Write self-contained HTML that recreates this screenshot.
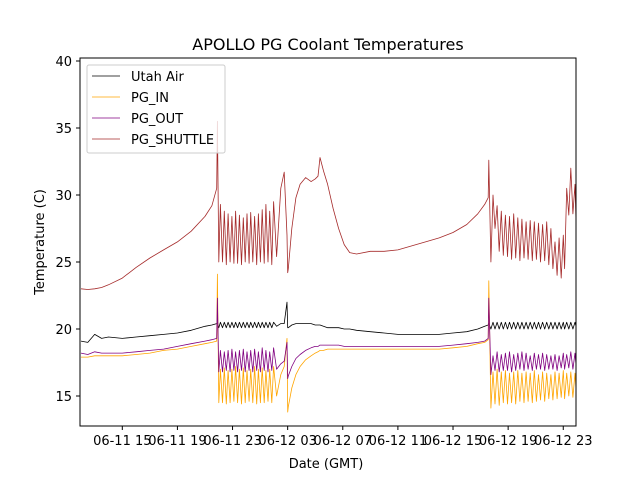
<!DOCTYPE html>
<html><head><meta charset="utf-8"><style>
body{margin:0;background:#fff}
svg{font-family:"DejaVu Sans","Liberation Sans",sans-serif}
</style></head><body>
<svg id="c" width="640" height="480" viewBox="0 0 640 480">
<rect width="640" height="480" fill="#fff"/>
<text x="328" y="50" font-size="16" text-anchor="middle">APOLLO PG Coolant Temperatures</text>
<g id="plot"></g>
<rect x="80" y="58" width="496" height="368" fill="none" stroke="#000" stroke-width="1"/>
<g id="axes"></g>
<text x="326" y="468" font-size="13" text-anchor="middle">Date (GMT)</text>
<text transform="translate(44,242) rotate(-90)" font-size="13" text-anchor="middle">Temperature (C)</text>
<g>
<rect x="87" y="65" width="138" height="88" fill="#fff" fill-opacity="0.8" stroke="#ccc" rx="2"/>
<line x1="92" y1="76" x2="120" y2="76" stroke="#000" stroke-width="0.8"/>
<text x="131" y="81" font-size="13">Utah Air</text>
<line x1="92" y1="97" x2="120" y2="97" stroke="orange" stroke-width="0.8"/>
<text x="131" y="102" font-size="13">PG_IN</text>
<line x1="92" y1="118" x2="120" y2="118" stroke="purple" stroke-width="0.8"/>
<text x="131" y="123" font-size="13">PG_OUT</text>
<line x1="92" y1="139" x2="120" y2="139" stroke="brown" stroke-width="0.8"/>
<text x="131" y="144" font-size="13">PG_SHUTTLE</text>
</g>
</svg>
<script>
// hours since 06-11 00:00 GMT
const T = [12,12.5,13,13.5,14,15,16,17,18,19,20,21,21.5,21.85,21.9,
22.0,22.12,22.27,22.4,22.55,22.68,22.82,22.95,23.1,23.22,23.37,23.5,23.65,23.78,23.92,24.05,24.2,24.32,24.47,24.6,24.75,24.88,25.02,25.15,25.3,25.42,25.57,25.7,25.85,25.98,26.2,26.5,26.75,26.95,27.0,
27.05,27.3,27.6,27.9,28.3,28.7,29.0,29.2,29.35,29.6,29.9,30.3,30.7,31.1,31.5,32,33,34,35,36,37,38,39,40,40.8,41.3,41.55,41.6,
41.75,41.9,42.05,42.2,42.35,42.5,42.65,42.8,42.95,43.1,43.25,43.4,43.55,43.7,43.85,44.0,44.15,44.3,44.45,44.6,44.75,44.9,45.05,45.2,45.35,45.5,45.65,45.8,45.95,46.1,46.25,46.4,46.55,46.7,46.85,47.0,47.1,47.25,47.4,47.55,47.7,47.85,47.95];
const shuttle = [23.0,22.95,23.0,23.1,23.3,23.8,24.6,25.3,25.9,26.5,27.3,28.4,29.2,30.5,35.5,
25,29.3,25,28.8,24.8,28.6,25,28.4,24.9,28.8,24.9,28.5,24.8,28.3,25,28.6,24.9,28.7,25,28.4,24.8,28.6,25,28.9,24.9,29.3,25,28.8,24.8,29.5,25.4,30.5,31.7,27,24.2,
24.5,27.5,29.8,30.8,31.3,31.0,31.2,31.4,32.8,31.8,30.8,29.0,27.5,26.3,25.7,25.6,25.8,25.8,25.9,26.2,26.5,26.8,27.2,27.8,28.6,29.3,29.8,32.6,
25.0,30.0,27.5,29.2,25.8,28.8,25.5,28.5,25.4,28.4,25.2,28.6,25.3,28.3,25.1,28.2,25.3,28.0,25.2,28.1,25.1,28.0,25.2,27.9,25.0,27.8,25.1,28.0,24.8,27.5,24.5,26.5,24.0,26.8,23.8,27.0,24.5,30.5,28.5,32.0,28.6,30.8,27.0];
const air = [19.1,19.0,19.6,19.3,19.4,19.3,19.4,19.5,19.6,19.7,19.9,20.2,20.3,20.4,20.5,
20.1,20.5,20.1,20.5,20.1,20.5,20.1,20.5,20.1,20.5,20.1,20.5,20.1,20.5,20.1,20.5,20.1,20.5,20.1,20.5,20.1,20.5,20.1,20.5,20.1,20.5,20.1,20.5,20.1,20.5,20.2,20.4,20.4,22.0,20.1,
20.1,20.3,20.4,20.4,20.4,20.4,20.3,20.3,20.3,20.2,20.1,20.1,20.1,20.0,20.0,19.9,19.8,19.7,19.6,19.6,19.6,19.6,19.7,19.8,20.0,20.2,20.3,20.4,
20.0,20.5,20.0,20.5,20.0,20.5,20.0,20.5,20.0,20.5,20.0,20.5,20.0,20.5,20.0,20.5,20.0,20.5,20.0,20.5,20.0,20.5,20.0,20.5,20.0,20.5,20.0,20.5,20.0,20.5,20.0,20.5,20.0,20.5,20.0,20.5,20.0,20.5,20.0,20.5,20.0,20.5,20.1];
const pgOut = [18.2,18.1,18.3,18.2,18.2,18.2,18.3,18.4,18.5,18.7,18.9,19.1,19.2,19.3,22.3,
16.8,18.4,16.8,18.3,16.9,18.4,16.8,18.5,16.9,18.3,16.8,18.4,16.9,18.5,16.8,18.3,16.9,18.4,16.8,18.5,16.9,18.3,16.8,18.6,16.9,18.4,16.8,18.3,16.9,18.6,17.0,17.4,17.6,19.0,16.3,
16.5,17.2,17.8,18.1,18.4,18.6,18.7,18.7,18.8,18.8,18.8,18.8,18.8,18.7,18.7,18.7,18.7,18.7,18.7,18.7,18.7,18.7,18.8,18.9,19.0,19.1,19.3,22.3,
16.6,18.0,16.9,18.3,16.8,18.1,16.9,18.2,16.9,18.3,16.8,18.1,16.9,18.2,17.0,18.3,16.9,18.2,17.0,18.0,16.9,18.2,17.0,18.1,17.0,18.2,16.9,18.1,17.0,18.0,17.0,18.1,16.9,18.0,17.1,18.2,17.0,18.1,17.1,18.3,17.0,18.2,17.0];
const pgIn = [17.9,17.9,18.0,18.0,18.0,18.0,18.1,18.2,18.4,18.5,18.7,18.9,19.0,19.1,24.1,
14.5,17.0,14.5,17.1,14.4,16.9,14.5,17.0,14.6,17.2,14.5,17.0,14.4,17.1,14.5,16.9,14.6,17.0,14.5,17.2,14.4,17.0,14.5,17.1,14.5,16.9,14.6,17.0,14.5,17.2,15.0,16.6,17.2,19.3,13.8,
14.2,15.6,16.6,17.2,17.7,18.0,18.2,18.3,18.4,18.4,18.5,18.5,18.5,18.5,18.5,18.5,18.5,18.5,18.5,18.5,18.5,18.5,18.6,18.7,18.9,19.0,19.2,23.6,
14.1,16.8,14.4,17.0,14.3,16.8,14.5,16.9,14.4,16.7,14.5,16.8,14.4,16.9,14.6,16.7,14.5,16.8,14.6,16.7,14.5,16.9,14.6,16.6,14.7,16.8,14.6,16.7,14.8,16.6,14.7,16.8,14.8,16.7,14.9,16.9,14.8,16.7,15.0,16.8,14.9,16.7,15.1];
const xTickHours = [15,19,23,27,31,35,39,43,47];
const xTickLabels = ["06-11 15","06-11 19","06-11 23","06-12 03","06-12 07","06-12 11","06-12 15","06-12 19","06-12 23"];
const yTicks = [15,20,25,30,35,40];

const X = h => 122.3 + (h - 15) * 13.78;
const Y = v => 329 - (v - 20) * 13.4;
const NS = "http://www.w3.org/2000/svg";
const plot = document.getElementById('plot');
const axes = document.getElementById('axes');

function drawSeries(vals, color, name) {
  const n = Math.min(T.length, vals.length);
  let d = "";
  for (let i = 0; i < n; i++) d += (i ? "L" : "M") + X(T[i]).toFixed(1) + "," + Y(vals[i]).toFixed(1);
  const p = document.createElementNS(NS, 'path');
  p.setAttribute('d', d);
  p.setAttribute('fill', 'none');
  p.setAttribute('stroke', color);
  p.setAttribute('stroke-width', '0.8');
  p.setAttribute('stroke-linejoin', 'round');
  
  
  plot.appendChild(p);
}
const clip = document.createElementNS(NS, 'clipPath');
clip.setAttribute('id', 'pc');
clip.innerHTML = '<rect x="80" y="58" width="496" height="368"/>';
document.getElementById('c').appendChild(clip);
plot.setAttribute('clip-path', 'url(#pc)');
drawSeries(air, '#000', 'series-utah-air');
drawSeries(pgIn, 'orange', 'series-pg-in');
drawSeries(pgOut, 'purple', 'series-pg-out');
drawSeries(shuttle, 'brown', 'series-pg-shuttle');

xTickHours.forEach((h, i) => {
  const x = X(h);
  const l = document.createElementNS(NS, 'line');
  l.setAttribute('x1', x); l.setAttribute('x2', x);
  l.setAttribute('y1', 426); l.setAttribute('y2', 430);
  l.setAttribute('stroke', '#000');
  
  
  axes.appendChild(l);
  const t = document.createElementNS(NS, 'text');
  t.setAttribute('x', x); t.setAttribute('y', 445);
  t.setAttribute('font-size', '13'); t.setAttribute('text-anchor', 'middle');
  
  
  t.textContent = xTickLabels[i];
  axes.appendChild(t);
});
yTicks.forEach(v => {
  const y = Y(v);
  const l = document.createElementNS(NS, 'line');
  l.setAttribute('x1', 76); l.setAttribute('x2', 80);
  l.setAttribute('y1', y); l.setAttribute('y2', y);
  l.setAttribute('stroke', '#000');
  
  
  axes.appendChild(l);
  const t = document.createElementNS(NS, 'text');
  t.setAttribute('x', 72); t.setAttribute('y', y + 5);
  t.setAttribute('font-size', '13'); t.setAttribute('text-anchor', 'end');
  
  
  t.textContent = v;
  axes.appendChild(t);
});
</script>
</body></html>
